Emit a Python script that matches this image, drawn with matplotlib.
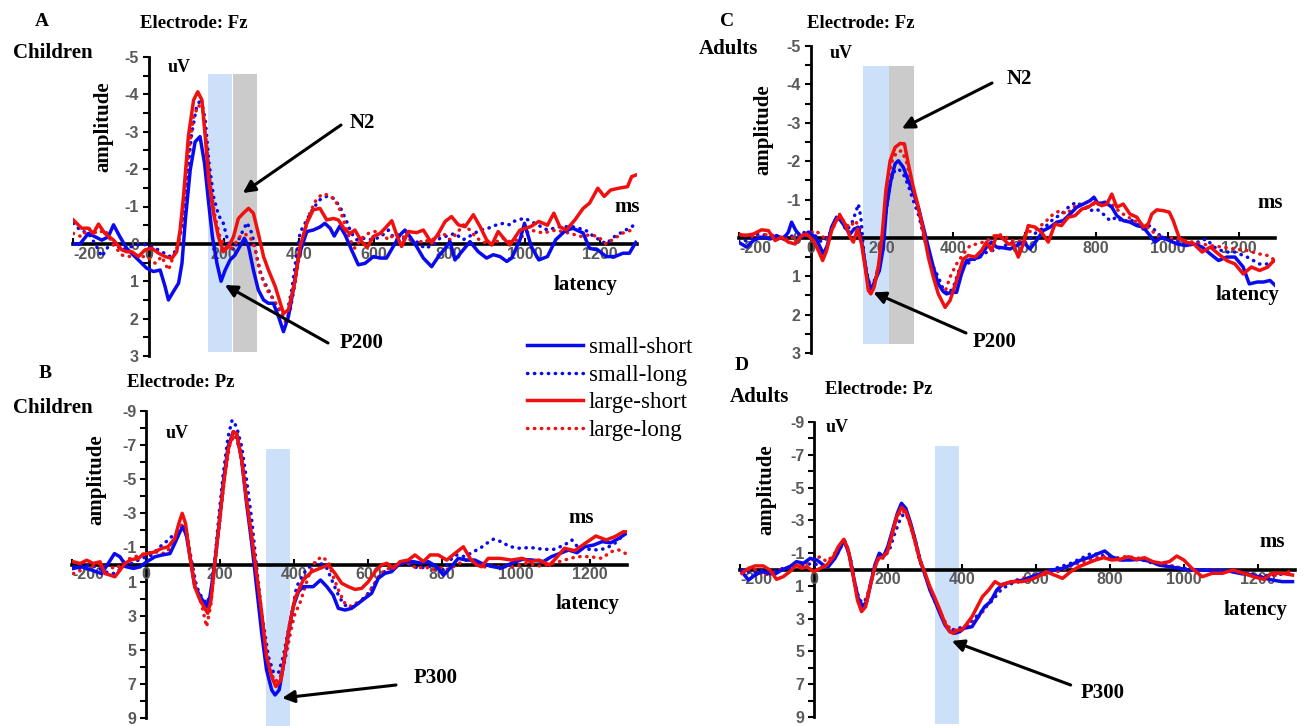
# ---------------------------------------------------
# ERP waveforms: children vs adults, electrodes Fz / Pz
# ---------------------------------------------------
import matplotlib
matplotlib.use("Agg")
import matplotlib.pyplot as plt
from matplotlib.lines import Line2D
from matplotlib.ticker import MultipleLocator

# ---------------------------------------------------
# Data: (latency ms, amplitude uV)
# ---------------------------------------------------
# Panel A - Children, Fz
A_small_short = [(-200, 0.0), (-182, 0.0), (-160, -0.28), (-142, -0.19), (-124, -0.10), (-107, -0.19), (-93, -0.51), (-76, -0.19), (-58, 0.12), (-40, 0.30), (-22, 0.48), (-5, 0.65), (13, 0.74), (31, 0.70), (44, 1.14), (53, 1.50), (66, 1.28), (80, 1.05), (89, 0.52), (98, -0.64), (111, -1.98), (124, -2.73), (137, -2.87), (149, -2.16), (160, -1.09), (170, -0.19), (182, 0.52), (193, 1.0), (204, 0.70), (217, 0.43), (230, 0.30), (243, 0.07), (255, -0.15), (266, 0.07), (279, 0.70), (292, 1.23), (306, 1.50), (319, 1.59), (332, 1.59), (346, 1.95), (359, 2.35), (372, 1.95), (385, 1.23), (399, 0.34), (421, -0.33), (438, -0.37), (456, -0.45), (469, -0.55), (483, -0.42), (494, -0.21), (509, -0.48), (523, -0.24), (540, 0.16), (558, 0.56), (576, 0.52), (598, 0.34), (616, 0.38), (633, 0.38), (651, 0.07), (669, -0.24), (682, -0.37), (695, -0.20), (713, 0.07), (731, 0.38), (753, 0.61), (771, 0.34), (789, 0.12), (802, -0.06), (815, 0.43), (833, 0.21), (855, -0.06), (877, 0.21), (899, 0.38), (917, 0.29), (935, 0.34), (953, 0.47), (966, 0.38), (988, -0.11), (1000, -0.55), (1018, 0.07), (1038, 0.43), (1061, 0.34), (1083, -0.11), (1106, -0.33), (1128, -0.42), (1156, -0.29), (1173, 0.12), (1195, 0.16), (1217, 0.34), (1240, 0.34), (1262, 0.25), (1279, 0.25), (1296, -0.04)]
A_small_long = [(-200, -0.55), (-182, -0.37), (-160, -0.28), (-142, 0.0), (-124, 0.34), (-107, 0.07), (-89, 0.0), (-71, 0.16), (-44, 0.07), (-18, 0.0), (9, 0.07), (35, 0.21), (58, 0.34), (75, 0.16), (89, -0.46), (102, -1.71), (115, -2.96), (128, -3.67), (140, -3.89), (151, -3.31), (161, -2.16), (173, -1.26), (186, -0.77), (199, -0.55), (213, 0.0), (226, 0.16), (239, -0.10), (252, -0.37), (262, -0.57), (275, -0.28), (288, 0.34), (301, 0.88), (319, 1.23), (337, 1.59), (355, 1.90), (368, 1.86), (381, 1.23), (392, 0.43), (403, -0.30), (421, -0.64), (438, -0.95), (456, -1.18), (474, -1.27), (492, -1.22), (509, -1.0), (527, -0.60), (540, -0.28), (554, -0.11), (571, -0.15), (594, -0.11), (616, -0.18), (638, -0.37), (656, -0.11), (673, -0.15), (695, -0.11), (713, -0.06), (735, 0.12), (757, 0.03), (775, -0.15), (793, -0.21), (815, -0.28), (837, -0.11), (860, -0.24), (882, -0.37), (904, -0.42), (926, -0.51), (944, -0.55), (961, -0.51), (971, -0.60), (1000, -0.69), (1027, -0.55), (1061, -0.37), (1094, -0.46), (1128, -0.46), (1162, -0.37), (1184, -0.20), (1217, 0.0), (1240, -0.20), (1262, -0.33), (1285, -0.46), (1296, -0.53)]
A_large_short = [(-200, -0.64), (-178, -0.42), (-160, -0.42), (-147, -0.28), (-133, -0.53), (-116, -0.28), (-93, -0.10), (-71, 0.16), (-58, 0.21), (-44, 0.21), (-27, 0.34), (-9, 0.16), (9, 0.12), (27, 0.25), (44, 0.34), (62, 0.39), (75, 0.21), (84, -0.37), (93, -1.26), (106, -2.87), (120, -3.85), (131, -4.07), (142, -3.85), (151, -2.87), (160, -1.71), (173, -0.82), (186, -0.19), (199, 0.21), (213, 0.07), (226, -0.19), (239, -0.68), (252, -0.82), (266, -0.95), (279, -0.82), (292, -0.28), (306, 0.34), (319, 0.70), (337, 1.14), (359, 1.86), (372, 1.77), (390, 0.97), (403, 0.07), (421, -0.55), (438, -0.91), (456, -0.95), (474, -0.64), (492, -0.68), (505, -0.64), (523, -0.37), (536, -0.28), (549, -0.37), (567, -0.06), (582, 0.09), (598, -0.20), (616, -0.28), (633, -0.46), (647, -0.62), (660, -0.24), (673, 0.07), (691, -0.33), (713, -0.30), (731, -0.37), (753, -0.02), (771, -0.28), (789, -0.60), (806, -0.73), (824, -0.51), (842, -0.46), (864, -0.78), (882, -0.46), (899, -0.11), (913, 0.03), (930, -0.33), (948, -0.11), (961, 0.03), (988, -0.37), (1016, -0.46), (1038, -0.60), (1061, -0.50), (1078, -0.82), (1094, -0.46), (1111, -0.37), (1134, -0.64), (1156, -0.95), (1173, -1.09), (1195, -1.49), (1212, -1.27), (1229, -1.44), (1251, -1.49), (1274, -1.53), (1285, -1.80), (1296, -1.84)]
A_large_long = [(-200, -0.28), (-178, -0.19), (-160, -0.42), (-137, -0.28), (-116, -0.37), (-93, 0.03), (-71, 0.30), (-49, 0.34), (-27, 0.34), (-5, 0.34), (18, 0.52), (35, 0.34), (53, 0.70), (66, 0.34), (80, 0.0), (93, -0.91), (106, -2.42), (120, -3.40), (133, -3.71), (144, -3.58), (155, -2.60), (165, -1.53), (177, -0.73), (190, -0.19), (204, 0.07), (217, 0.16), (230, 0.0), (243, -0.19), (257, -0.26), (270, -0.19), (284, 0.16), (297, 0.79), (315, 1.23), (333, 1.50), (350, 1.77), (364, 2.08), (377, 1.77), (390, 1.05), (403, 0.16), (412, -0.2), (425, -0.73), (443, -1.13), (461, -1.33), (478, -1.31), (496, -1.18), (509, -0.91), (523, -0.51), (536, -0.11), (549, 0.12), (567, -0.15), (585, -0.28), (602, -0.33), (620, -0.28), (638, -0.11), (656, -0.28), (673, -0.20), (691, -0.15), (713, 0.03), (731, -0.11), (749, -0.06), (766, -0.20), (784, -0.28), (802, -0.11), (820, -0.28), (837, -0.51), (855, -0.37), (873, -0.15), (890, -0.06), (908, 0.03), (926, -0.06), (944, -0.15), (961, -0.06), (983, -0.11), (1016, -0.37), (1050, -0.29), (1083, -0.37), (1117, -0.29), (1150, -0.20), (1173, -0.24), (1195, -0.20), (1217, 0.0), (1240, -0.15), (1262, -0.29), (1285, -0.37), (1296, -0.37)]

# Panel B - Children, Pz
B_small_short = [(-197, 0.23), (-175, 0.14), (-148, 0.33), (-121, 0.53), (-103, -0.06), (-86, -0.64), (-71, -0.45), (-53, 0.14), (-35, 0.23), (-17, 0.14), (1, -0.16), (23, -0.45), (41, -0.55), (64, -0.64), (77, -1.24), (91, -1.92), (100, -2.21), (109, -1.63), (121, -0.06), (131, 1.30), (149, 1.99), (163, 2.47), (172, 1.89), (184, 0.14), (196, -2.21), (208, -4.76), (221, -6.9), (235, -7.78), (244, -7.69), (258, -6.12), (271, -3.58), (285, -1.24), (298, 1.30), (312, 4.04), (325, 6.19), (339, 7.36), (348, 7.65), (359, 7.36), (370, 5.99), (384, 4.04), (397, 2.47), (411, 1.6), (424, 1.30), (451, 1.30), (471, 0.91), (488, 1.30), (505, 1.79), (519, 2.57), (537, 2.67), (555, 2.57), (573, 2.28), (591, 1.98), (609, 1.69), (627, 0.81), (645, 0.52), (663, 0.42), (681, 0.03), (699, -0.17), (722, -0.17), (744, -0.07), (762, -0.17), (785, 0.13), (803, 0.62), (821, 0.22), (843, -0.36), (866, -0.26), (888, -0.26), (906, -0.07), (929, 0.09), (959, 0.22), (987, -0.07), (1016, -0.30), (1044, -0.26), (1073, -0.17), (1095, -0.46), (1118, -0.65), (1141, -0.85), (1164, -0.69), (1186, -1.05), (1209, -1.14), (1232, -1.34), (1255, -1.27), (1277, -1.53), (1295, -1.79)]
B_small_long = [(-197, 0.14), (-166, 0.04), (-134, 0.14), (-112, 0.43), (-89, 0.53), (-67, 0.23), (-40, -0.06), (-13, -0.35), (14, -0.55), (37, -1.04), (59, -1.43), (73, -1.73), (88, -1.92), (100, -2.31), (109, -1.82), (122, -0.25), (136, 1.30), (149, 1.89), (163, 2.29), (175, 1.69), (185, -0.25), (196, -2.80), (208, -5.34), (221, -7.49), (232, -8.47), (244, -8.08), (258, -6.9), (271, -4.95), (285, -2.61), (298, 0.14), (312, 2.86), (330, 5.40), (343, 6.28), (357, 6.38), (370, 5.40), (384, 3.84), (397, 2.47), (406, 1.30), (429, 0.42), (451, -0.07), (469, -0.1), (487, 0.17), (505, 1.10), (523, 1.98), (541, 2.47), (559, 2.47), (577, 2.18), (596, 1.79), (618, 1.10), (636, 0.52), (659, 0.22), (681, 0.03), (699, -0.1), (722, 0.13), (740, 0.22), (762, 0.09), (780, 0.22), (803, 0.32), (821, -0.26), (839, -0.56), (861, -0.46), (884, -0.75), (902, -0.95), (920, -1.24), (938, -1.48), (959, -1.34), (982, -1.05), (1010, -0.95), (1038, -1.0), (1073, -0.89), (1101, -0.89), (1130, -1.14), (1150, -1.44), (1169, -0.95), (1198, -0.89), (1221, -0.85), (1243, -0.95), (1266, -1.24), (1295, -1.83)]
B_large_short = [(-197, -0.16), (-179, -0.06), (-161, -0.25), (-143, -0.06), (-125, -0.16), (-112, 0.53), (-98, 0.62), (-85, 0.72), (-71, 0.33), (-58, -0.06), (-40, -0.29), (-22, -0.35), (-8, -0.60), (5, -0.64), (23, -0.74), (41, -0.94), (59, -1.04), (77, -1.53), (88, -2.41), (97, -3.0), (106, -2.41), (118, -0.45), (131, 1.30), (145, 2.08), (158, 2.57), (166, 2.86), (175, 2.08), (185, -0.06), (196, -2.21), (208, -4.56), (221, -6.71), (235, -7.78), (244, -7.69), (258, -6.12), (271, -3.78), (285, -1.63), (298, 0.53), (312, 2.86), (325, 5.40), (339, 6.58), (350, 7.16), (364, 6.77), (375, 5.21), (388, 3.45), (402, 2.0), (424, 0.91), (447, 0.42), (470, 0.22), (492, 0.03), (510, 0.52), (528, 1.10), (546, 1.30), (564, 1.46), (582, 1.40), (600, 1.01), (618, 0.42), (636, 0.03), (650, -0.07), (668, 0.22), (686, -0.17), (708, -0.26), (726, -0.56), (749, -0.17), (767, -0.56), (789, -0.56), (812, -0.26), (834, -0.65), (857, -1.04), (875, -0.36), (893, 0.03), (906, 0.13), (924, -0.36), (956, -0.36), (987, -0.26), (1016, -0.36), (1038, -0.17), (1061, -0.26), (1090, 0.03), (1107, -0.36), (1130, -0.95), (1158, -0.81), (1186, -1.24), (1215, -1.67), (1243, -1.44), (1266, -1.63), (1289, -1.92), (1295, -1.92)]
B_large_long = [(-197, 0.53), (-175, 0.33), (-157, 0.23), (-130, -0.06), (-103, 0.14), (-80, 0.23), (-58, -0.25), (-31, -0.45), (-4, -0.64), (23, -0.74), (50, -0.64), (68, -1.04), (86, -1.82), (98, -2.41), (109, -1.82), (122, -0.06), (136, 1.5), (149, 2.29), (163, 3.65), (175, 2.29), (185, -0.06), (199, -2.61), (212, -5.15), (226, -7.1), (239, -7.59), (253, -6.71), (266, -4.76), (280, -2.41), (294, -0.06), (307, 2.47), (321, 4.82), (334, 6.19), (348, 6.87), (361, 6.67), (375, 5.6), (393, 3.65), (402, 2.86), (415, 2.28), (438, 0.71), (456, -0.17), (474, -0.46), (492, -0.17), (505, 0.71), (523, 1.69), (537, 2.28), (555, 2.47), (573, 2.18), (591, 1.98), (609, 1.40), (627, 0.71), (645, 0.32), (668, 0.13), (686, -0.07), (708, -0.07), (731, 0.22), (753, 0.13), (776, 0.32), (794, 0.22), (816, 0.28), (839, 0.03), (861, -0.26), (884, -0.17), (906, 0.17), (929, 0.09), (952, 0.13), (993, 0.13), (1027, -0.07), (1061, 0.09), (1095, -0.03), (1130, -0.26), (1164, -0.46), (1198, -0.46), (1232, -0.36), (1255, -0.75), (1277, -0.85), (1295, -0.65)]

# Panel C - Adults, Fz
C_small_short = [(-202, 0.11), (-179, 0.24), (-160, 0.07), (-137, -0.02), (-113, 0.03), (-95, -0.06), (-76, 0.03), (-62, -0.15), (-53, -0.41), (-41, -0.19), (-25, -0.02), (-6, -0.15), (13, -0.02), (27, 0.24), (36, 0.42), (47, 0.20), (59, -0.28), (73, -0.54), (85, -0.45), (97, -0.28), (111, -0.10), (122, -0.23), (134, -0.28), (146, 0.24), (157, 0.94), (169, 1.37), (181, 1.11), (193, 0.85), (204, 0.24), (213, -0.80), (225, -1.49), (237, -1.93), (246, -2.01), (260, -1.84), (274, -1.49), (288, -1.19), (302, -0.80), (316, -0.28), (330, 0.24), (344, 0.76), (358, 1.20), (372, 1.40), (381, 1.46), (395, 1.42), (409, 1.42), (423, 0.94), (437, 0.59), (456, 0.55), (475, 0.50), (493, 0.24), (507, 0.11), (521, 0.24), (540, 0.26), (559, 0.29), (577, 0.20), (596, 0.11), (615, 0.29), (633, 0.07), (652, -0.19), (671, -0.28), (690, -0.41), (708, -0.45), (727, -0.62), (746, -0.80), (764, -0.88), (783, -0.97), (794, -1.06), (806, -0.88), (825, -0.93), (844, -0.80), (858, -0.58), (876, -0.45), (895, -0.41), (914, -0.32), (932, -0.28), (951, -0.06), (965, 0.11), (984, -0.02), (1005, 0.07), (1028, 0.16), (1051, 0.20), (1074, 0.16), (1097, 0.24), (1120, 0.42), (1143, 0.59), (1166, 0.50), (1189, 0.50), (1212, 0.76), (1229, 1.20), (1252, 1.15), (1269, 1.15), (1287, 1.11), (1302, 1.24)]
C_small_long = [(-202, 0.07), (-174, 0.07), (-146, -0.10), (-118, -0.06), (-90, -0.02), (-62, -0.06), (-34, -0.02), (-11, -0.19), (13, -0.06), (31, 0.11), (50, -0.02), (69, -0.45), (85, -0.45), (101, -0.19), (115, -0.36), (125, -0.62), (134, -0.88), (141, -0.54), (150, 0.50), (162, 1.11), (171, 1.29), (183, 1.02), (197, 0.50), (209, -0.45), (221, -1.32), (232, -1.71), (246, -1.80), (260, -1.67), (274, -1.36), (288, -0.97), (302, -0.62), (316, -0.10), (330, 0.42), (344, 0.76), (358, 1.02), (372, 1.35), (386, 1.46), (400, 1.29), (419, 0.76), (437, 0.68), (456, 0.59), (475, 0.42), (498, 0.37), (521, 0.29), (545, 0.20), (568, 0.11), (591, 0.16), (615, 0.03), (633, -0.15), (657, -0.28), (680, -0.49), (703, -0.62), (727, -0.84), (746, -0.93), (764, -0.80), (783, -0.71), (802, -0.75), (820, -0.62), (839, -0.45), (858, -0.54), (876, -0.41), (895, -0.49), (914, -0.36), (932, -0.23), (951, -0.32), (970, -0.15), (988, 0.03), (1016, 0.03), (1051, 0.16), (1085, 0.11), (1108, 0.03), (1131, 0.24), (1160, 0.37), (1189, 0.37), (1223, 0.50), (1258, 0.68), (1281, 0.68), (1302, 0.59)]
C_large_short = [(-202, -0.10), (-183, -0.06), (-160, -0.10), (-137, -0.21), (-118, -0.19), (-99, 0.07), (-81, -0.02), (-62, 0.11), (-43, 0.16), (-25, -0.06), (-11, -0.10), (8, 0.07), (22, 0.33), (34, 0.59), (45, 0.33), (59, -0.19), (73, -0.47), (83, -0.58), (97, -0.36), (111, -0.02), (120, 0.11), (132, -0.23), (143, 0.16), (153, 0.76), (162, 1.37), (169, 1.46), (178, 1.29), (190, 0.76), (201, -0.10), (211, -1.23), (223, -2.01), (237, -2.36), (251, -2.46), (263, -2.45), (274, -1.93), (288, -1.32), (302, -0.80), (316, -0.19), (330, 0.50), (344, 1.02), (358, 1.46), (377, 1.81), (391, 1.63), (409, 1.11), (428, 0.55), (442, 0.46), (461, 0.50), (479, 0.33), (493, 0.11), (507, 0.33), (521, -0.06), (535, -0.02), (554, 0.16), (568, 0.16), (582, 0.50), (596, 0.16), (610, -0.32), (629, -0.28), (647, -0.15), (666, 0.11), (685, -0.36), (703, -0.32), (722, -0.54), (741, -0.58), (760, -0.75), (778, -0.80), (797, -0.93), (816, -0.84), (830, -0.88), (844, -1.14), (858, -0.80), (876, -0.88), (895, -0.62), (914, -0.54), (932, -0.28), (946, -0.36), (956, -0.62), (970, -0.73), (988, -0.71), (1005, -0.67), (1016, -0.45), (1033, 0.0), (1051, 0.11), (1074, 0.16), (1097, 0.37), (1120, 0.24), (1143, 0.42), (1166, 0.59), (1189, 0.68), (1212, 0.94), (1235, 0.76), (1258, 0.85), (1281, 0.76), (1298, 0.59)]
C_large_long = [(-202, -0.10), (-174, -0.06), (-146, -0.02), (-118, -0.10), (-90, -0.02), (-62, 0.03), (-34, -0.06), (-11, -0.06), (13, -0.19), (27, -0.10), (45, 0.07), (64, -0.28), (81, -0.62), (97, -0.36), (111, -0.28), (125, -0.45), (137, -0.28), (148, 0.42), (159, 1.11), (169, 1.37), (181, 1.11), (193, 0.59), (204, -0.28), (216, -1.41), (227, -1.97), (241, -2.23), (255, -2.27), (268, -2.01), (279, -1.58), (293, -1.06), (307, -0.54), (321, 0.07), (335, 0.59), (349, 1.02), (363, 1.30), (377, 1.40), (391, 1.02), (409, 0.68), (428, 0.42), (447, 0.20), (465, 0.16), (484, 0.11), (503, 0.03), (521, -0.10), (540, -0.06), (563, 0.07), (587, 0.07), (610, -0.15), (633, -0.23), (657, -0.41), (680, -0.62), (699, -0.71), (718, -0.62), (736, -0.80), (755, -0.88), (778, -0.80), (802, -0.93), (820, -0.88), (844, -0.88), (867, -0.67), (890, -0.54), (914, -0.41), (937, -0.32), (960, -0.15), (984, 0.03), (1016, 0.0), (1051, 0.07), (1085, 0.14), (1120, 0.20), (1154, 0.24), (1189, 0.29), (1223, 0.33), (1258, 0.42), (1281, 0.46), (1302, 0.59)]

# Panel D - Adults, Pz
D_small_short = [(-196, 0.13), (-178, 0.64), (-160, 0.34), (-142, 0.13), (-124, 0.23), (-106, 0.28), (-88, 0.03), (-66, -0.17), (-48, -0.48), (-29, -0.38), (-11, -0.68), (7, -0.58), (25, -0.27), (38, -0.17), (56, -0.68), (70, -1.29), (81, -1.80), (95, -0.88), (108, 0.64), (119, 1.76), (131, 2.27), (142, 1.96), (153, 0.85), (164, -0.27), (176, -0.99), (187, -0.78), (199, -1.39), (212, -2.41), (225, -3.43), (236, -4.04), (248, -3.73), (261, -2.82), (273, -1.80), (286, -0.58), (300, 0.34), (313, 1.25), (327, 1.96), (340, 2.67), (354, 3.39), (367, 3.79), (381, 3.89), (394, 3.79), (405, 3.59), (427, 3.49), (444, 2.88), (461, 2.27), (477, 1.96), (494, 1.25), (511, 0.89), (539, 0.74), (566, 0.64), (588, 0.44), (616, 0.23), (644, 0.03), (672, -0.07), (694, -0.27), (722, -0.58), (750, -0.78), (766, -0.95), (786, -1.13), (805, -0.78), (827, -0.58), (855, -0.58), (883, -0.62), (911, -0.48), (933, -0.27), (961, -0.17), (988, -0.07), (1016, 0.03), (1050, 0.03), (1083, 0.07), (1116, 0.07), (1150, 0.23), (1183, 0.34), (1211, 0.48), (1239, 0.64), (1266, 0.74), (1294, 0.74)]
D_small_long = [(-196, 0.03), (-165, 0.23), (-138, 0.03), (-111, 0.13), (-84, -0.07), (-57, -0.22), (-29, -0.27), (-2, -0.38), (20, -0.17), (43, -0.38), (61, -0.88), (77, -1.60), (86, -1.70), (99, -0.58), (110, 0.85), (122, 1.86), (133, 2.02), (144, 1.66), (155, 0.64), (167, -0.38), (180, -0.88), (191, -0.78), (205, -1.29), (218, -2.21), (232, -3.02), (243, -3.43), (254, -3.22), (266, -2.41), (279, -1.29), (292, -0.17), (306, 0.74), (319, 1.56), (333, 2.27), (347, 2.98), (360, 3.49), (374, 3.69), (387, 3.59), (411, 3.49), (438, 2.88), (461, 2.37), (483, 1.86), (505, 1.25), (528, 0.89), (555, 0.74), (583, 0.54), (611, 0.34), (639, 0.03), (666, -0.17), (694, -0.38), (722, -0.68), (750, -0.99), (777, -0.88), (805, -0.68), (833, -0.58), (861, -0.62), (889, -0.58), (916, -0.38), (944, -0.27), (972, -0.17), (1005, -0.07), (1038, 0.03), (1072, 0.03), (1105, 0.13), (1139, 0.03), (1172, 0.23), (1205, 0.40), (1239, 0.34), (1272, 0.27), (1294, 0.23)]
D_large_short = [(-196, 0.23), (-178, -0.07), (-160, -0.22), (-138, -0.22), (-120, 0.03), (-102, 0.60), (-84, 0.44), (-66, 0.13), (-48, -0.27), (-34, -0.07), (-20, -0.17), (-2, 0.13), (16, -0.07), (34, -0.27), (52, -0.78), (65, -1.39), (80, -1.84), (92, -1.19), (106, 0.44), (117, 1.86), (128, 2.57), (139, 2.27), (151, 1.05), (162, 0.03), (173, -0.68), (187, -0.78), (198, -1.09), (209, -2.0), (223, -3.22), (236, -3.79), (248, -3.53), (259, -2.82), (273, -1.70), (286, -0.58), (300, 0.23), (313, 1.05), (327, 1.76), (340, 2.47), (354, 3.29), (367, 3.79), (376, 3.89), (390, 3.69), (400, 3.69), (427, 2.88), (455, 1.66), (472, 1.25), (489, 0.74), (505, 0.95), (533, 0.74), (561, 0.74), (583, 0.64), (605, 0.44), (627, 0.13), (650, 0.34), (672, 0.54), (694, 0.13), (716, -0.17), (739, -0.38), (761, -0.58), (783, -0.72), (805, -0.58), (827, -0.62), (850, -0.78), (872, -0.62), (894, -0.72), (916, -0.48), (939, -0.38), (961, -0.48), (981, -0.82), (1000, -0.58), (1022, -0.07), (1050, 0.44), (1077, 0.23), (1105, 0.23), (1133, 0.03), (1161, 0.23), (1189, 0.44), (1216, 0.60), (1239, 0.23), (1266, 0.23), (1294, 0.34)]
D_large_long = [(-196, 0.13), (-165, -0.07), (-138, 0.34), (-111, 0.23), (-84, -0.07), (-57, -0.17), (-29, -0.27), (-2, -0.62), (16, -0.78), (34, -0.48), (52, -0.88), (68, -1.39), (80, -1.76), (94, -0.99), (106, 0.44), (118, 1.66), (128, 2.17), (139, 1.96), (151, 0.95), (163, -0.17), (175, -0.78), (187, -0.68), (199, -1.09), (212, -2.10), (225, -3.12), (236, -3.63), (248, -3.43), (261, -2.61), (273, -1.60), (286, -0.48), (300, 0.34), (313, 1.15), (327, 1.86), (340, 2.57), (354, 3.19), (367, 3.59), (381, 3.69), (394, 3.69), (422, 3.39), (450, 2.78), (477, 1.86), (505, 1.05), (533, 0.74), (561, 0.54), (588, 0.44), (616, 0.34), (644, 0.23), (672, 0.03), (700, -0.27), (727, -0.48), (755, -0.68), (783, -0.78), (811, -0.68), (839, -0.78), (866, -0.74), (894, -0.62), (922, -0.42), (950, -0.33), (978, -0.17), (1005, 0.0), (1038, 0.07), (1072, 0.03), (1105, 0.07), (1139, 0.13), (1172, 0.23), (1205, 0.44), (1239, 0.40), (1272, 0.23), (1294, 0.07)]

conditions = ["small-short", "small-long", "large-short", "large-long"]
x_tick_values = [-200, 0, 200, 400, 600, 800, 1000, 1200]
fz_tick_values = [-5, -4, -3, -2, -1, 0, 1, 2, 3]
pz_tick_values = [-9, -7, -5, -3, -1, 1, 3, 5, 7, 9]

# ---------------------------------------------------
# Styles
# ---------------------------------------------------
BLUE = "#0a0af0"
RED = "#f01010"
SHADE_BLUE = "#cde0fa"
SHADE_GRAY = "#cbcbcb"
TICK_GRAY = "#595959"
DOTS = (0, (0.1, 1.9))

styles = {
    "small-short": dict(color=BLUE, lw=2.5, ls="-", zorder=3),
    "small-long": dict(color=BLUE, lw=2.5, ls=DOTS, dash_capstyle="round", zorder=2),
    "large-short": dict(color=RED, lw=2.5, ls="-", zorder=4),
    "large-long": dict(color=RED, lw=2.5, ls=DOTS, dash_capstyle="round", zorder=2),
}
draw_order = ["small-long", "large-long", "small-short", "large-short"]
tick_font = dict(fontfamily="Liberation Sans", fontweight="bold", fontsize=11.5, color=TICK_GRAY)
serif_bold = dict(fontfamily="Liberation Serif", fontweight="bold", ha="center", va="center")

W, H = 1304, 726
fig = plt.figure(figsize=(W / 100, H / 100), dpi=100)


def fig_xy(x, y):
    # pixel (from top-left) -> figure fraction
    return x / W, 1 - y / H


def draw_panel(box, xlim, ylim, yticks, yminor, series, shades):
    left, right, top, bottom = box
    ax = fig.add_axes([left / W, 1 - bottom / H, (right - left) / W, (bottom - top) / H])
    ax.set_facecolor("none")
    for t0, t1, v0, v1, col in shades:
        ax.fill_betweenx([v0, v1], t0, t1, color=col, lw=0, zorder=0.5, clip_on=False)
    for name in draw_order:
        pts = series[name]
        ax.plot([p[0] for p in pts], [p[1] for p in pts], **styles[name])
    ax.set_xlim(*xlim)
    ax.set_ylim(*ylim)
    for s in ("top", "right"):
        ax.spines[s].set_visible(False)
    ax.spines["left"].set_position(("data", 0))
    ax.spines["bottom"].set_position(("data", 0))
    ax.spines["bottom"].set_linewidth(2.6)
    ax.spines["left"].set_linewidth(2.0)
    ax.spines["bottom"].set_zorder(1.5)
    ax.spines["left"].set_zorder(1.5)
    ax.set_xticks(x_tick_values)
    ax.set_xticklabels([str(v) for v in x_tick_values], **tick_font)
    ax.get_xticklabels()[0].set_ha("left")   # first label sits inside the axis start
    ax.set_yticks(yticks)
    ax.set_yticklabels([str(v) for v in yticks], **tick_font)
    ax.yaxis.set_minor_locator(MultipleLocator(yminor))
    ax.tick_params(axis="x", direction="in", length=4, width=1.5, pad=2)
    ax.tick_params(axis="y", which="both", direction="out", length=4, width=1.5, pad=3)
    return ax


axA = draw_panel((73.3, 637.3, 57, 356), (-200, 1300), (3, -5), fz_tick_values, 0.5,
                 dict(zip(conditions, [A_small_short, A_small_long, A_large_short, A_large_long])),
                 [(159, 223, -4.55, 2.9, SHADE_BLUE), (225, 289, -4.55, 2.9, SHADE_GRAY)])
axB = draw_panel((72.3, 627.3, 411, 718), (-200, 1300), (9, -9), pz_tick_values, 1,
                 dict(zip(conditions, [B_small_short, B_small_long, B_large_short, B_large_long])),
                 [(323, 388, -6.75, 9.45, SHADE_BLUE)])
axC = draw_panel((739.1, 1274.6, 46, 353), (-200, 1300), (3, -5), fz_tick_values, 0.5,
                 dict(zip(conditions, [C_small_short, C_small_long, C_large_short, C_large_long])),
                 [(148, 219, -4.49, 2.76, SHADE_BLUE), (220, 290, -4.49, 2.76, SHADE_GRAY)])
axD = draw_panel((740.3, 1294.7, 422, 717), (-200, 1300), (9, -9), pz_tick_values, 1,
                 dict(zip(conditions, [D_small_short, D_small_long, D_large_short, D_large_long])),
                 [(327, 392, -7.53, 9.45, SHADE_BLUE)])

# ---------------------------------------------------
# Labels (pixel positions)
# ---------------------------------------------------
labels = [
    ("A", 42, 22, 14), ("Electrode: Fz", 194, 23, 13.5), ("Children", 53, 53, 15),
    ("uV", 179, 67, 13), ("ms", 627, 207, 15), ("latency", 585, 285, 15),
    ("N2", 362, 123, 15), ("P200", 362, 343, 15),
    ("B", 45, 374, 14), ("Electrode: Pz", 181, 383, 13.5), ("Children", 53, 408, 15),
    ("uV", 177, 433, 13), ("ms", 581, 518, 15), ("latency", 587, 604, 15), ("P300", 436, 678, 15),
    ("C", 727, 22, 14), ("Electrode: Fz", 861, 23, 13.5), ("Adults", 728, 49, 15),
    ("uV", 841, 53, 13), ("ms", 1270, 203, 15), ("latency", 1247, 295, 15),
    ("N2", 1019, 79, 15), ("P200", 995, 342, 15),
    ("D", 742, 365, 14), ("Electrode: Pz", 879, 389, 13.5), ("Adults", 759, 397, 15),
    ("uV", 837, 427, 13), ("ms", 1272, 542, 15), ("latency", 1255, 610, 15), ("P300", 1103, 693, 15),
]
for s, x, y, size in labels:
    fig.text(*fig_xy(x, y), s, fontsize=size, **serif_bold)

for x, y in [(103, 127), (96, 480), (763, 130), (766, 490)]:
    fig.text(*fig_xy(x, y), "amplitude", fontsize=15, rotation=90, **serif_bold)

# arrows: head at a point on the waveform, tail next to the label
arrows = [
    (axA, (251, -1.36), (341, 125)),
    (axA, (203, 1.10), (328, 343)),
    (axB, (367, 7.83), (396, 685)),
    (axC, (256, -2.85), (992, 83)),
    (axC, (176, 1.42), (966, 333)),
    (axD, (372, 4.36), (1070.7, 685)),
]
for ax, head, tail in arrows:
    ax.annotate("", xy=head, xycoords="data", xytext=fig_xy(*tail), textcoords="figure fraction",
                arrowprops=dict(arrowstyle="-|>", color="black", lw=2.2, mutation_scale=18,
                                shrinkA=0, shrinkB=0), annotation_clip=False)

# ---------------------------------------------------
# Legend
# ---------------------------------------------------
handles = [Line2D([], [], **{k: v for k, v in styles[c].items() if k != "zorder"}) for c in conditions]
fig.legend(handles, conditions, loc="center left", bbox_to_anchor=fig_xy(527, 389),
           frameon=False, prop={"family": "Liberation Serif", "size": 16.5},
           handlelength=2.45, handletextpad=0.25, labelspacing=0.28,
           borderpad=0, borderaxespad=0)

fig.savefig("out.png", dpi=100)
